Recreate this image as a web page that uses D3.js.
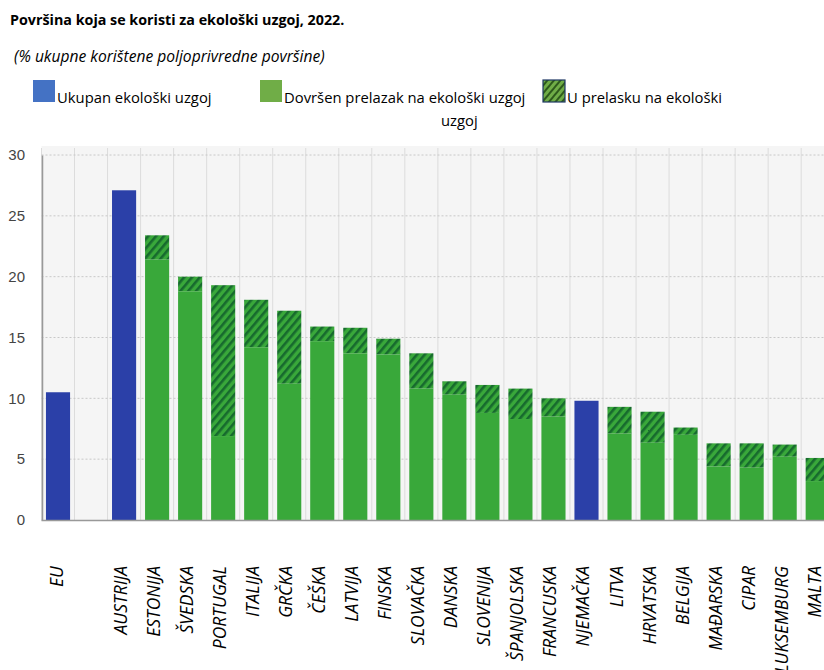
<!DOCTYPE html>
<html>
<head>
<meta charset="utf-8">
<script src="https://cdn.jsdelivr.net/npm/d3@7"></script>
<style>
  body { margin: 0; background: #fff; }
  svg { display: block; font-family: "Open Sans", sans-serif; }
</style>
</head>
<body>
<div id="chart"></div>
<script>
'use strict';

// categories, "" is the empty slot after EU
var countries = ["EU", "", "AUSTRIJA", "ESTONIJA", "ŠVEDSKA", "PORTUGAL", "ITALIJA", "GRČKA",
    "ČEŠKA", "LATVIJA", "FINSKA", "SLOVAČKA", "DANSKA", "SLOVENIJA", "ŠPANJOLSKA", "FRANCUSKA",
    "NJEMAČKA", "LITVA", "HRVATSKA", "BELGIJA", "MAĐARSKA", "CIPAR", "LUKSEMBURG", "MALTA"];

// total organic area (% of UAA)
var total = [10.5, null, 27.1, 23.4, 20.0, 19.3, 18.1, 17.2,
    15.9, 15.8, 14.9, 13.7, 11.4, 11.1, 10.8, 10.0,
    9.8, 9.3, 8.9, 7.6, 6.3, 6.3, 6.2, 5.1];

// fully converted part, null where only the total is shown (blue bars)
var converted = [null, null, null, 21.4, 18.8, 6.9, 14.2, 11.2,
    14.7, 13.7, 13.6, 10.8, 10.3, 8.8, 8.3, 8.5,
    null, 7.1, 6.35, 7.0, 4.4, 4.3, 5.2, 3.2];

var yTicks = [0, 5, 10, 15, 20, 25, 30];

var legendItems = ["Ukupan ekološki uzgoj", "Dovršen prelazak na ekološki uzgoj", "U prelasku na ekološki"];

var width = 824, height = 670;
var blue = "#2b40a8", green = "#39a83a", darkGreen = "#176a2e";

var svg = d3.select("#chart").append("svg")
    .attr("width", width)
    .attr("height", height);

var defs = svg.append("defs");
var pat = defs.append("pattern")
    .attr("id", "hatch")
    .attr("patternUnits", "userSpaceOnUse")
    .attr("width", 6).attr("height", 6)
    .attr("patternTransform", "rotate(40)");
pat.append("rect").attr("width", 6).attr("height", 6).attr("fill", green);
pat.append("rect").attr("width", 2.6).attr("height", 6).attr("fill", darkGreen);

var patL = defs.append("pattern")
    .attr("id", "hatchLegend")
    .attr("patternUnits", "userSpaceOnUse")
    .attr("width", 5).attr("height", 5)
    .attr("patternTransform", "rotate(40)");
patL.append("rect").attr("width", 5).attr("height", 5).attr("fill", "#70ad47");
patL.append("rect").attr("width", 2).attr("height", 5).attr("fill", "#2e5a1c");

// titles
svg.append("text")
    .attr("x", 10).attr("y", 25)
    .style("font-size", "14.3px").style("font-weight", "bold")
    .text("Površina koja se koristi za ekološki uzgoj, 2022.");

svg.append("text")
    .attr("x", 14).attr("y", 62)
    .style("font-size", "15.6px").style("font-style", "italic")
    .text("(% ukupne korištene poljoprivredne površine)");

// legend
var legX = [33, 260, 543];
var fills = ["#4472c4", "#70ad47", "url(#hatchLegend)"];
legendItems.forEach(function(t, i) {
    svg.append("rect")
        .attr("x", legX[i]).attr("y", 80)
        .attr("width", 22).attr("height", 22)
        .attr("fill", fills[i])
        .attr("stroke", i == 2 ? "#1f3864" : "none")
        .attr("stroke-width", 1.2);
    svg.append("text")
        .attr("x", legX[i] + 24).attr("y", 103)
        .style("font-size", "14.8px")
        .text(t);
});
svg.append("text")
    .attr("x", 441).attr("y", 126)
    .style("font-size", "14.8px")
    .text("uzgoj");

// scales
var x = d3.scaleBand()
    .domain(d3.range(countries.length))
    .range([41.5, 41.5 + countries.length * 33.03])
    .paddingInner(0.27)
    .paddingOuter(0.135);

var y = d3.scaleLinear()
    .domain([0, 30])
    .range([520, 155]);

// plot background
svg.append("rect")
    .attr("x", 41.5).attr("y", 146)
    .attr("width", width - 41.5).attr("height", 375)
    .attr("fill", "#f5f5f5");

// vertical grid at band boundaries
var g = svg.append("g");
g.selectAll(".vgrid")
    .data(d3.range(countries.length + 1))
    .join("line")
    .attr("x1", d => 41.5 + d * x.step())
    .attr("x2", d => 41.5 + d * x.step())
    .attr("y1", 148).attr("y2", 520)
    .attr("stroke", "#dcdcdc").attr("stroke-width", 1);

// horizontal dotted grid
g.selectAll(".hgrid")
    .data(yTicks.slice(1))
    .join("line")
    .attr("x1", 41.5).attr("x2", width)
    .attr("y1", d => y(d)).attr("y2", d => y(d))
    .attr("stroke", "#c8c8c8")
    .attr("stroke-dasharray", "2,2");

// y axis
var yAxis = svg.append("g")
    .attr("transform", "translate(42,0)")
    .call(d3.axisLeft(y).tickValues(yTicks).tickSize(0).tickPadding(17));
yAxis.select(".domain").attr("stroke", "#999").attr("stroke-width", 1.5);
yAxis.selectAll("text")
    .style("font-family", "'Liberation Sans Narrow', 'Liberation Sans', sans-serif")
    .style("font-size", "15px")
    .attr("fill", "#444");

// bars
var rows = countries.map(function(c, i) {
    return { i: i, name: c, total: total[i], converted: converted[i] };
}).filter(d => d.total != null);

var bars = svg.append("g");
bars.selectAll(".blue")
    .data(rows.filter(d => d.converted == null))
    .join("rect")
    .attr("x", d => x(d.i))
    .attr("width", x.bandwidth())
    .attr("y", d => y(d.total))
    .attr("height", d => y(0) - y(d.total))
    .attr("fill", blue);

bars.selectAll(".hatched")
    .data(rows.filter(d => d.converted != null))
    .join("rect")
    .attr("x", d => x(d.i))
    .attr("width", x.bandwidth())
    .attr("y", d => y(d.total))
    .attr("height", d => y(d.converted) - y(d.total))
    .attr("fill", "url(#hatch)");

bars.selectAll(".green")
    .data(rows.filter(d => d.converted != null))
    .join("rect")
    .attr("x", d => x(d.i))
    .attr("width", x.bandwidth())
    .attr("y", d => y(d.converted))
    .attr("height", d => y(0) - y(d.converted))
    .attr("fill", green);

// x axis line
svg.append("line")
    .attr("x1", 41.5).attr("x2", width)
    .attr("y1", 520.5).attr("y2", 520.5)
    .attr("stroke", "#999").attr("stroke-width", 1.5);

// category labels
svg.append("g").selectAll("text")
    .data(countries.map((c, i) => ({ i: i, name: c })).filter(d => d.name != ""))
    .join("text")
    .attr("transform", d => "translate(" + (x(d.i) + x.bandwidth() / 2 + (d.i == 0 ? 5 : 3)) + ",566) rotate(-90)")
    .attr("text-anchor", "end")
    .style("font-size", "17.5px")
    .style("font-style", "italic")
    .text(d => d.name);
</script>
</body>
</html>
